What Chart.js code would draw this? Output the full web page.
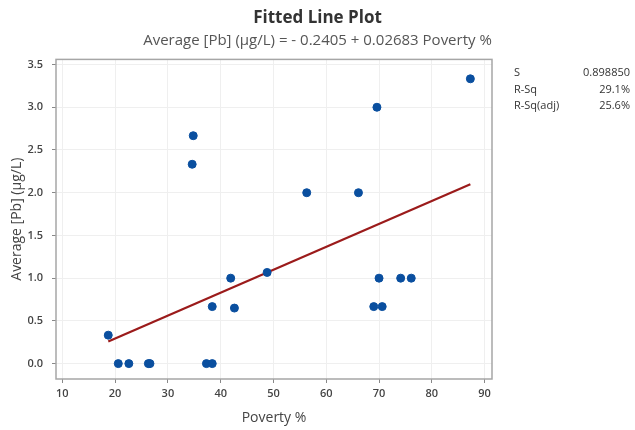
<!DOCTYPE html>
<html>
<head>
<meta charset="utf-8">
<script src="https://cdn.jsdelivr.net/npm/chart.js@4"></script>
<style>
  html, body { margin: 0; padding: 0; background: #fff; }
  #wrap { width: 635px; height: 430px; }
</style>
</head>
<body>
<div id="wrap"><canvas id="myChart" width="635" height="430"></canvas></div>
<script>
// Data
const povertyPct = [18.7, 20.6, 22.6, 26.3, 26.6, 34.6, 34.8, 37.3, 38.4, 38.4, 41.9, 42.6, 48.8,
                    56.3, 66.1, 69.0, 69.6, 70.0, 70.6, 74.1, 76.1, 87.3];
const avgPb      = [0.333, 0, 0, 0, 0, 2.333, 2.667, 0, 0, 0.667, 1.0, 0.65, 1.067,
                    2.0, 2.0, 0.667, 3.0, 1.0, 0.667, 1.0, 1.0, 3.333];

// fitted line end points
const fitX = [18.7, 87.3];
const fitY = [0.26, 2.10];

const xTickValues = [10, 20, 30, 40, 50, 60, 70, 80, 90];
const yTickValues = [0, 0.5, 1, 1.5, 2, 2.5, 3, 3.5];

const statLabels = ['S', 'R-Sq', 'R-Sq(adj)'];
const statValues = ['0.898850', '29.1%', '25.6%'];

const FONT = "'Open Sans', 'Noto Sans', sans-serif";

// box around the plot + stats table on the right
const framePlugin = {
  id: 'frame',
  afterDraw(chart) {
    const { ctx, chartArea: a } = chart;
    ctx.save();
    ctx.strokeStyle = '#a6a6a6';
    ctx.lineWidth = 1.5;
    ctx.strokeRect(a.left, a.top, a.right - a.left, a.bottom - a.top);

    ctx.fillStyle = '#333';
    ctx.font = "11px " + FONT;
    ctx.textBaseline = 'middle';
    statLabels.forEach((lab, i) => {
      const y = 73 + i * 16.5;
      ctx.textAlign = 'left';
      ctx.fillText(lab, 514, y);
      ctx.textAlign = 'right';
      ctx.fillText(statValues[i], 630, y);
    });
    ctx.restore();
  }
};

const tickFont = { family: FONT, size: 11, weight: '600' };

const ctx = document.getElementById('myChart').getContext('2d');

new Chart(ctx, {
  type: 'scatter',
  data: {
    datasets: [
      {
        label: 'Data',
        data: povertyPct.map((x, i) => ({ x: x, y: avgPb[i] })),
        backgroundColor: '#0a4f9f',
        borderColor: '#0a4f9f',
        pointRadius: 4,
        pointHoverRadius: 4
      },
      {
        label: 'Fit',
        type: 'line',
        data: fitX.map((x, i) => ({ x: x, y: fitY[i] })),
        borderColor: '#9b1b1b',
        borderWidth: 2.2,
        pointRadius: 0,
        fill: false
      }
    ]
  },
  options: {
    responsive: false,
    animation: false,
    layout: { padding: 0 },
    plugins: {
      legend: { display: false },
      tooltip: { enabled: false },
      title: {
        display: true,
        text: 'Fitted Line Plot',
        color: '#333',
        font: { family: FONT, size: 17, weight: 'bold' },
        padding: { top: 8, bottom: 3 }
      },
      subtitle: {
        display: true,
        text: 'Average [Pb] (µg/L) = - 0.2405 + 0.02683 Poverty %',
        color: '#555',
        font: { family: FONT, size: 15 },
        padding: { top: 0, bottom: 10 }
      }
    },
    scales: {
      x: {
        type: 'linear',
        min: 8.8,
        max: 91.4,
        afterBuildTicks: s => { s.ticks = xTickValues.map(v => ({ value: v })); },
        afterFit: s => { s.height = 51; },
        grid: { color: '#efefef', tickColor: '#888', tickLength: 4, drawTicks: true },
        border: { display: false },
        ticks: { color: '#444', font: tickFont, padding: 4, maxRotation: 0 },
        title: {
          display: true,
          text: 'Poverty %',
          color: '#444',
          font: { family: FONT, size: 14 },
          padding: { top: 4 }
        }
      },
      y: {
        type: 'linear',
        min: -0.18,
        max: 3.56,
        afterBuildTicks: s => { s.ticks = yTickValues.map(v => ({ value: v })); },
        afterFit: s => { s.width = 56; },
        grid: { color: '#efefef', tickColor: '#888', tickLength: 4, drawTicks: true },
        border: { display: false },
        ticks: {
          color: '#444',
          font: tickFont,
          padding: 9,
          callback: v => Number(v).toFixed(1)
        },
        title: {
          display: true,
          text: 'Average [Pb] (µg/L)',
          color: '#444',
          font: { family: FONT, size: 14 },
          padding: { top: 9, bottom: 0 }
        }
      },
      // empty right axis that keeps room for the stats table
      side: {
        type: 'linear',
        position: 'right',
        afterFit: s => { s.width = 143; },
        grid: { display: false, drawOnChartArea: false },
        border: { display: false },
        ticks: { display: false }
      }
    }
  },
  plugins: [framePlugin]
});
</script>
</body>
</html>
